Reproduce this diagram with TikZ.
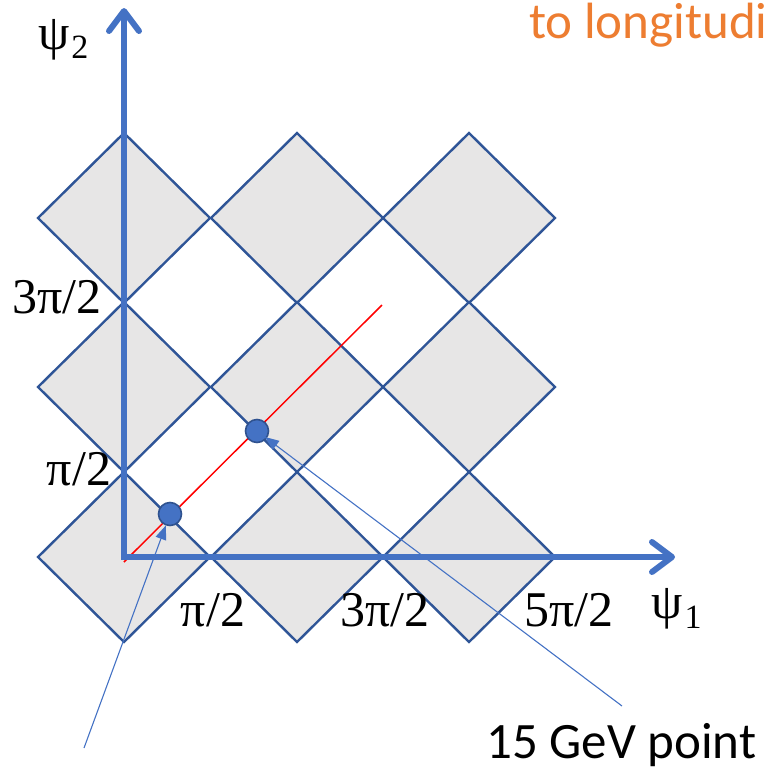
\documentclass[tikz,border=0pt]{standalone}
\usepackage{fontspec}
\setmainfont{Liberation Serif}
\newfontfamily\carlfont{Carlito}
\usetikzlibrary{arrows.meta}
\definecolor{axisblue}{HTML}{4472C4}
\definecolor{edgeblue}{HTML}{2F5597}
\definecolor{cellgray}{HTML}{E7E6E6}
\definecolor{dotedge}{HTML}{2F528F}
\definecolor{titleorange}{HTML}{ED7D31}
\begin{document}
\begin{tikzpicture}[x=1pt,y=-1pt,
  cell/.style={fill=cellgray,draw=edgeblue,line width=2.4pt,line join=miter},
  barb/.tip={Straight Barb[length=20pt,width=30pt,line cap=round,line join=round]},
  axisline/.style={draw=axisblue,line width=6pt,line join=miter,barb-barb},
  pt/.style={circle,fill=axisblue,draw=dotedge,line width=1.6pt,minimum size=23pt,inner sep=0pt},
  pointer/.style={draw=axisblue,line width=1.1pt,-{Triangle[length=14pt,width=11pt]}},
  mlab/.style={font=\fontsize{50}{50}\selectfont,inner sep=0pt},
  clab/.style={font=\carlfont\fontsize{51}{51}\selectfont,inner sep=0pt}]
\useasboundingbox (0,0) rectangle (768,772);
% diamond cells
\foreach \cx in {124,297,469}
  \foreach \cy in {218,387,557}
    \draw[cell] (\cx-86,\cy) -- (\cx,\cy-85) -- (\cx+86,\cy) -- (\cx,\cy+85) -- cycle;
% red line
\coordinate (rs) at (124,562);
\coordinate (re) at (382,305);
\draw[red,line width=1.5pt] (rs) -- (re);
% axes
\coordinate (ytip) at (124,8);
\coordinate (xtip) at (675,557);
\draw[axisline] (ytip) |- (xtip);
% points
\node[pt] (d1) at (170,514) {};
\node[pt] (d2) at (257,431) {};
% pointers
\coordinate (s1) at (84,748);
\coordinate (s2) at (622,706);
\draw[pointer] (s1) -- (d1);
\draw[pointer,shorten >=-2.4pt] (s2) -- (d2);
% labels
\node[mlab,anchor=base] (y3) at (57,313) {3π/2};
\node[mlab,anchor=base] (y1) at (79,485) {π/2};
\node[mlab,anchor=base] (x1) at (213,626) {π/2};
\node[mlab,anchor=base] (x3) at (385,626) {3π/2};
\node[mlab,anchor=base] (x5) at (569,626) {5π/2};
\node[mlab,anchor=base west] (psi1) at (651,618) {ψ\hspace{2pt}\raisebox{-10pt}{\fontsize{34}{34}\selectfont 1}};
\node[mlab,anchor=base west] (psi2) at (38,49) {ψ\hspace{2pt}\raisebox{-9pt}{\fontsize{34}{34}\selectfont 2}};
\node[clab,text=titleorange,anchor=base west] (title) at (529,38) {to longitudi};
\node[clab,anchor=base west] (gev) at (486,758) {15 GeV point};
\end{tikzpicture}
\end{document}
